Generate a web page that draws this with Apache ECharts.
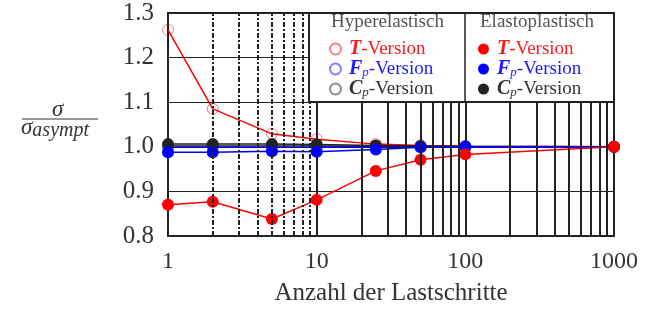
<!DOCTYPE html>
<html><head><meta charset="utf-8">
<script src="https://cdn.jsdelivr.net/npm/echarts@6/dist/echarts.min.js"></script>
<style>html,body{margin:0;padding:0;background:#fff}#c{width:657px;height:312px}</style>
</head><body><div id="c"></div>
<script>
var steps = [1, 2, 5, 10, 25, 50, 100, 1000];
var hyperT  = [1.262, 1.085, 1.029, 1.017, 1.006, 1.003, 1.001, 1.000];
var hyperFp = [0.999, 0.999, 0.999, 0.999, 1.000, 1.000, 1.000, 1.000];
var hyperCp = [1.002, 1.002, 1.002, 1.002, 1.001, 1.001, 1.000, 1.000];
var elastoT  = [0.870, 0.877, 0.838, 0.881, 0.946, 0.971, 0.983, 1.000];
var elastoFp = [0.988, 0.988, 0.990, 0.989, 0.994, 0.999, 1.000, 1.000];
var elastoCp = [1.006, 1.006, 1.006, 1.005, 1.003, 1.002, 1.001, 1.000];
var xTicks = [1, 10, 100, 1000];
var minorA = [2, 3, 4, 5, 6, 7, 8, 9];
var minorB = [20, 30, 40, 50, 60, 70, 80, 90, 200, 300, 400, 500, 600, 700, 800, 900];
var legendLabels = {
  'hT': '{rb|T}{r|-Version}', 'hF': '{bb|F}{bs|p}{b|-Version}', 'hC': '{kb|C}{ks|p}{k|-Version}',
  'eT': '{rb|T}{r|-Version}', 'eF': '{bb|F}{bs|p}{b|-Version}', 'eC': '{kb|C}{ks|p}{k|-Version}'
};

var FONT = '"Liberation Serif", "DejaVu Serif", serif';
function pairs(v){ return steps.map(function(s,i){ return [s, v[i]]; }); }
function rich(){
  var cols = {r:'#ff1a1a', b:'#1a1aff', k:'#333'};
  var o = {};
  Object.keys(cols).forEach(function(k){
    o[k] = {color: cols[k], fontSize: 19, fontFamily: FONT, lineHeight: 20};
    o[k+'b'] = {color: cols[k], fontSize: 20, fontFamily: FONT, fontWeight: 'bold', fontStyle: 'italic', lineHeight: 20};
    o[k+'s'] = {color: cols[k], fontSize: 13, fontFamily: FONT, fontStyle: 'italic', lineHeight: 20, verticalAlign: 'bottom', padding: [7,0,0,0]};
  });
  return o;
}
function hollow(name, data, stroke, lineCol){
  return {name: name, type: 'line', data: pairs(data), symbol: 'circle', symbolSize: 11, z: 2,
    itemStyle: {color: 'rgba(255,255,255,0)', borderColor: stroke, borderWidth: 1},
    lineStyle: {color: lineCol, width: 1.5}};
}
function filled(name, data, col){
  return {name: name, type: 'line', data: pairs(data), symbol: 'circle', symbolSize: 12, z: 3,
    itemStyle: {color: col}, lineStyle: {color: col, width: 1.5}};
}
var series = [
  hollow('hC', hyperCp, 'rgba(0,0,0,0.45)', '#222'),
  hollow('hF', hyperFp, 'rgba(0,0,255,0.5)', '#0000ff'),
  hollow('hT', hyperT, 'rgba(255,0,0,0.5)', '#ff0000'),
  filled('eC', elastoCp, '#222'),
  filled('eF', elastoFp, '#0000ff'),
  filled('eT', elastoT, '#ff0000'),
  {type: 'line', data: [], z: 1, silent: true,
   markLine: {silent: true, symbol: 'none', label: {show: false},
     lineStyle: {color: '#222', width: 2, type: [5, 2, 2, 2]},
     data: minorA.map(function(v){ return {xAxis: v}; })}},
  {type: 'line', data: [], z: 1, silent: true,
   markLine: {silent: true, symbol: 'none', label: {show: false},
     lineStyle: {color: '#222', width: 2, type: 'solid'},
     data: minorB.map(function(v){ return {xAxis: v}; })}}
];
function legendBox(left, names){
  return {orient: 'vertical', left: left, top: 34, itemGap: 0, itemWidth: 11, itemHeight: 11,
    icon: 'circle', z: 10, data: names,
    formatter: function(n){ return legendLabels[n]; },
    textStyle: {rich: rich(), padding: [0,0,0,3]}};
}
var option = {
  animation: false,
  backgroundColor: '#fff',
  grid: {left: 168, right: 43, top: 13, bottom: 76, show: true, borderColor: '#222', borderWidth: 2, backgroundColor: 'rgba(0,0,0,0)'},
  xAxis: {type: 'log', logBase: 10, min: 1, max: 1000,
    axisLine: {show: true, lineStyle: {color: '#222', width: 2}},
    axisTick: {show: false},
    splitLine: {show: true, lineStyle: {color: '#222', width: 2}},
    axisLabel: {fontSize: 24, fontFamily: FONT, color: '#333', margin: 14,
      formatter: function(v){ return xTicks.indexOf(Math.round(v)) >= 0 ? String(Math.round(v)) : ''; }},
    name: 'Anzahl der Lastschritte', nameLocation: 'middle', nameGap: 45,
    nameTextStyle: {fontSize: 25, fontFamily: FONT, color: '#333'}},
  yAxis: {type: 'value', min: 0.8, max: 1.3, interval: 0.1,
    axisLine: {show: true, lineStyle: {color: '#222', width: 2}},
    axisTick: {show: false},
    splitLine: {show: true, lineStyle: {color: '#222', width: 1}},
    axisLabel: {fontSize: 25, fontFamily: FONT, color: '#333', margin: 14,
      formatter: function(v){ return v.toFixed(1); }}},
  legend: [legendBox(324, ['hT', 'hF', 'hC']), legendBox(473, ['eT', 'eF', 'eC'])],
  graphic: [
    {type: 'rect', z: 8, shape: {x: 309, y: 13, width: 305, height: 89},
     style: {fill: '#fff', stroke: '#222', lineWidth: 2}},
    {type: 'line', z: 9, shape: {x1: 465, y1: 13, x2: 465, y2: 102}, style: {stroke: '#222', lineWidth: 1.5}},
    {type: 'text', z: 9, left: 331, top: 13, style: {text: 'Hyperelastisch', font: '19px ' + FONT, fill: '#555'}},
    {type: 'text', z: 9, left: 480, top: 13, style: {text: 'Elastoplastisch', font: '19px ' + FONT, fill: '#555'}},
    {type: 'text', z: 9, left: 52, top: 98, style: {text: 'σ', font: 'italic 23px ' + FONT, fill: '#333'}},
    {type: 'line', z: 9, shape: {x1: 22, y1: 119, x2: 98, y2: 119}, style: {stroke: '#333', lineWidth: 1}},
    {type: 'text', z: 9, left: 21, top: 116, style: {text: '{a|σ}{s|asympt}', rich: {
      a: {font: 'italic 23px ' + FONT, fill: '#333', color: '#333'},
      s: {font: 'italic 20px ' + FONT, fill: '#333', color: '#333', padding: [6,0,0,0]}}}}
  ],
  series: series
};
var chart = echarts.init(document.getElementById('c'), null, {renderer: 'canvas'});
chart.setOption(option);
</script></body></html>
